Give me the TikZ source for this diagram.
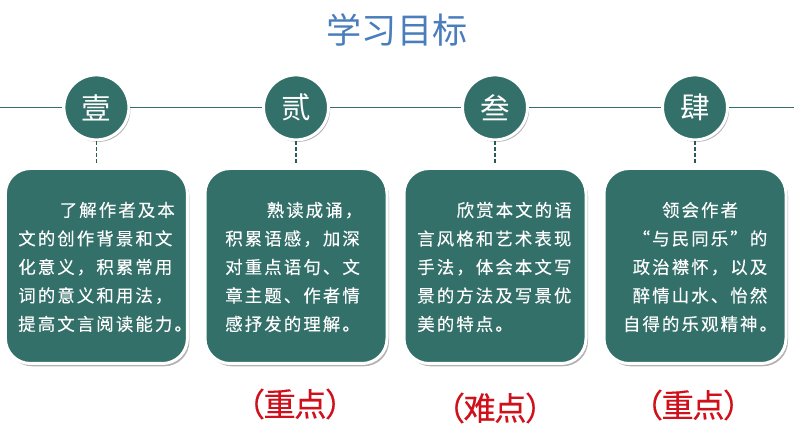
\documentclass[tikz,border=0pt]{standalone}
\usepackage{fontspec}
\setmainfont{Noto Sans CJK SC}
\newfontfamily\goalfont[LetterSpace=12, FakeBold=0.25]{Noto Sans CJK SC}
\newfontfamily\markfont[LetterSpace=-5, FakeBold=0.25]{Noto Sans CJK SC}
\usetikzlibrary{shadows}
\definecolor{goalteal}{HTML}{33706A}
\definecolor{titleblue}{HTML}{4A7DBB}
\definecolor{markred}{HTML}{D0101A}
\tikzset{
	numcircle/.style={circle, fill=goalteal, draw=white, line width=0.075cm, minimum size=1.625cm, inner sep=0, text=white, font=\fontsize{21}{22}\selectfont, drop shadow={shadow xshift=0.04cm, shadow yshift=-0.05cm, opacity=0.3, fill=black}},
	goalbox/.style={rounded corners=0.625cm, fill=goalteal, draw=white, line width=0.075cm, minimum width=4.55cm, minimum height=4.875cm, outer sep=0.1cm, drop shadow={shadow xshift=0.05cm, shadow yshift=-0.07cm, opacity=0.3, fill=black}},
	goaltext/.style={anchor=west, inner sep=0, text=white, align=left, font=\goalfont\fontsize{12.4}{20.27}\selectfont},
	marktext/.style={inner sep=0, text=markred, font=\markfont\fontsize{23}{24}\selectfont},
	hline/.style={goalteal, line width=0.035cm},
	dashline/.style={goalteal!80!black, line width=0.03cm, dash pattern=on 0.1cm off 0.05cm}
}
\begin{document}
\begin{tikzpicture}
	%%%%% START %%%%%
	\useasboundingbox[fill=white] (0, 0) rectangle (19.85, 11.175);

	\node[text=titleblue, font=\fontsize{25}{26}\selectfont] (title) at (9.925, 10.425) {学习目标};

	\coordinate (left) at (0, 8.49);
	\coordinate (right) at (19.85, 8.49);

	\node[numcircle] (one) at (2.41, 8.49) {壹};
	\node[numcircle] (two) at (7.4, 8.49) {贰};
	\node[numcircle] (three) at (12.375, 8.49) {叁};
	\node[numcircle] (four) at (17.375, 8.49) {肆};

	\draw[hline] (left) -- (one);
	\draw[hline] (one) -- (two);
	\draw[hline] (two) -- (three);
	\draw[hline] (three) -- (four);
	\draw[hline] (four) -- (right);

	\node[goalbox] (boxone) at (2.41, 4.525) {};
	\node[goalbox] (boxtwo) at (7.4, 4.525) {};
	\node[goalbox] (boxthree) at (12.375, 4.525) {};
	\node[goalbox] (boxfour) at (17.375, 4.525) {};

	\draw[dashline] (one) -- (boxone);
	\draw[dashline] (two) -- (boxtwo);
	\draw[dashline] (three) -- (boxthree);
	\draw[dashline] (four) -- (boxfour);

	\node[goaltext] (textone) at (0.45, 4.5) {\hspace*{29.5pt}了解作者及本\\文的创作背景和文\\化意义，积累常用\\词的意义和用法，\\提高文言阅读能力。};
	\node[goaltext] (texttwo) at (5.625, 4.5) {\hspace*{29.5pt}熟读成诵，\\积累语感，加深\\对重点语句、文\\章主题、作者情\\感抒发的理解。};
	\node[goaltext] (textthree) at (10.425, 4.5) {\hspace*{28pt}欣赏本文的语\\言风格和艺术表现\\手法，体会本文写\\景的方法及写景优\\美的特点。};
	\node[goaltext, anchor=center, align=center] (textfour) at (17.5, 4.5) {领会作者\\“与民同乐”的\\政治襟怀，以及\\醉情山水、怡然\\自得的乐观精神。};

	\node[marktext] (markone) at (7.375, 1.075) {（重点）};
	\node[marktext] (marktwo) at (12.375, 0.975) {（难点）};
	\node[marktext] (markthree) at (17.325, 1.05) {（重点）};
	%%%%% END %%%%%
\end{tikzpicture}
\end{document}
